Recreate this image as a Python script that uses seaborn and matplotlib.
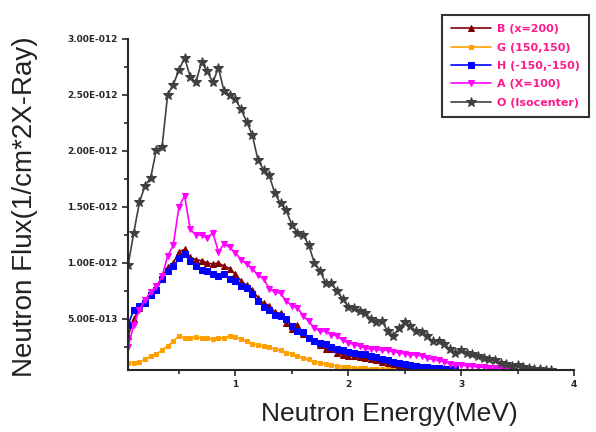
import matplotlib
matplotlib.use("Agg")
import matplotlib.pyplot as plt
import seaborn as sns
import numpy as np
import pandas as pd

# energy bins (MeV)
energy = [0.05, 0.10, 0.15, 0.20, 0.25, 0.30, 0.35, 0.40, 0.45, 0.50,
          0.55, 0.60, 0.65, 0.70, 0.75, 0.80, 0.85, 0.90, 0.95, 1.00,
          1.05, 1.10, 1.15, 1.20, 1.25, 1.30, 1.35, 1.40, 1.45, 1.50,
          1.55, 1.60, 1.65, 1.70, 1.75, 1.80, 1.85, 1.90, 1.95, 2.00,
          2.05, 2.10, 2.15, 2.20, 2.25, 2.30, 2.35, 2.40, 2.45, 2.50,
          2.55, 2.60, 2.65, 2.70, 2.75, 2.80, 2.85, 2.90, 2.95, 3.00,
          3.05, 3.10, 3.15, 3.20, 3.25, 3.30, 3.35, 3.40, 3.45, 3.50,
          3.55, 3.60, 3.65, 3.70, 3.75, 3.80]

# flux in units of 1E-12
flux_b = [0.35, 0.50, 0.60, 0.66, 0.74, 0.79, 0.87, 0.96, 1.00, 1.10,
          1.12, 1.05, 1.03, 1.02, 1.00, 0.99, 1.00, 0.97, 0.95, 0.90,
          0.84, 0.80, 0.76, 0.69, 0.64, 0.62, 0.56, 0.55, 0.46, 0.41,
          0.45, 0.37, 0.33, 0.30, 0.27, 0.23, 0.23, 0.20, 0.18, 0.17,
          0.17, 0.16, 0.15, 0.14, 0.13, 0.12, 0.11, 0.10, 0.09, 0.08,
          0.07, 0.07, 0.06, 0.06, 0.05, 0.05]
flux_g = [0.11, 0.11, 0.12, 0.14, 0.17, 0.19, 0.22, 0.26, 0.30, 0.35,
          0.33, 0.33, 0.34, 0.33, 0.33, 0.32, 0.33, 0.33, 0.35, 0.34,
          0.32, 0.30, 0.28, 0.27, 0.26, 0.25, 0.23, 0.22, 0.20, 0.19,
          0.17, 0.15, 0.14, 0.12, 0.11, 0.10, 0.09, 0.08, 0.075, 0.07,
          0.065, 0.06, 0.06, 0.055, 0.05, 0.05, 0.05, 0.048]
flux_h = [0.45, 0.58, 0.62, 0.64, 0.71, 0.76, 0.86, 0.93, 0.97, 1.04,
          1.08, 1.02, 0.97, 0.94, 0.93, 0.90, 0.88, 0.90, 0.86, 0.84,
          0.79, 0.78, 0.72, 0.66, 0.61, 0.58, 0.54, 0.53, 0.50, 0.44,
          0.39, 0.38, 0.33, 0.30, 0.29, 0.28, 0.25, 0.23, 0.22, 0.21,
          0.20, 0.19, 0.19, 0.17, 0.16, 0.14, 0.13, 0.12, 0.11, 0.10,
          0.09, 0.08, 0.07, 0.07, 0.06, 0.06, 0.05, 0.05, 0.05]
flux_a = [0.25, 0.45, 0.58, 0.67, 0.74, 0.79, 0.88, 1.06, 1.16, 1.50,
          1.60, 1.30, 1.25, 1.25, 1.22, 1.27, 1.10, 1.17, 1.14, 1.09,
          1.03, 0.99, 0.95, 0.89, 0.86, 0.77, 0.74, 0.73, 0.66, 0.62,
          0.60, 0.53, 0.48, 0.42, 0.39, 0.39, 0.36, 0.35, 0.31, 0.29,
          0.27, 0.26, 0.24, 0.23, 0.23, 0.22, 0.22, 0.21, 0.20, 0.19,
          0.18, 0.18, 0.17, 0.15, 0.14, 0.13, 0.12, 0.10, 0.09, 0.09,
          0.08, 0.08, 0.07, 0.07, 0.06, 0.06, 0.05, 0.05, 0.05]
flux_o = [0.98, 1.27, 1.54, 1.69, 1.76, 2.01, 2.03, 2.50, 2.59, 2.72,
          2.83, 2.66, 2.61, 2.79, 2.71, 2.61, 2.74, 2.53, 2.50, 2.46,
          2.37, 2.26, 2.14, 1.92, 1.83, 1.78, 1.62, 1.53, 1.47, 1.34,
          1.27, 1.25, 1.16, 1.00, 0.93, 0.82, 0.82, 0.75, 0.68, 0.61,
          0.60, 0.57, 0.55, 0.50, 0.47, 0.48, 0.39, 0.35, 0.42, 0.47,
          0.44, 0.39, 0.38, 0.35, 0.30, 0.30, 0.28, 0.23, 0.20, 0.22,
          0.20, 0.19, 0.17, 0.15, 0.14, 0.13, 0.11, 0.10, 0.08, 0.09,
          0.07, 0.06, 0.05, 0.05, 0.045, 0.045]

labels = ["B (x=200)", "G (150,150)", "H (-150,-150)", "A (X=100)", "O (Isocenter)"]
series = [flux_b, flux_g, flux_h, flux_a, flux_o]
colors = ["#800000", "#ffa000", "#0000ff", "#ff00ff", "#404040"]
markers = ["^", "s", "s", "v", "*"]
msizes = [4.5, 2.5, 5, 4, 7.5]

yticks = [5e-13, 1e-12, 1.5e-12, 2e-12, 2.5e-12, 3e-12]
ytick_labels = ["5.00E-013", "1.00E-012", "1.50E-012", "2.00E-012", "2.50E-012", "3.00E-012"]
xticks = [1, 2, 3, 4]
xtick_labels = ["1", "2", "3", "4"]

sns.set_style("ticks")
plt.rcParams["font.family"] = ["Liberation Sans", "DejaVu Sans"]

fig = plt.figure(figsize=(5.96, 4.32), dpi=100)
ax = fig.add_axes([0.215, 0.1435, 0.748, 0.767])

for lab, vals, c, m, ms in zip(labels, series, colors, markers, msizes):
    df = pd.DataFrame({"energy": energy[:len(vals)], "flux": np.array(vals) * 1e-12})
    sns.lineplot(data=df, x="energy", y="flux", ax=ax, color=c, marker=m,
                 markersize=ms, markeredgecolor=c, linewidth=1.2, label=lab)

ax.set_xlim(0.05, 4)
ax.set_ylim(0.045e-12, 3e-12)
ax.set_xticks(xticks)
ax.set_xticklabels(xtick_labels, fontsize=6.5, fontweight="bold", family="DejaVu Sans")
ax.set_xticks([0.5, 1.5, 2.5, 3.5], minor=True)
ax.set_yticks(yticks)
ax.set_yticklabels(ytick_labels, fontsize=6.5, fontweight="bold", family="DejaVu Sans")
ax.set_yticks([2.5e-13, 7.5e-13, 1.25e-12, 1.75e-12, 2.25e-12, 2.75e-12], minor=True)
ax.tick_params(which="major", length=4, width=1.2, direction="out")
ax.tick_params(which="minor", length=3, width=1.2, direction="out")
for s in ["left", "bottom"]:
    ax.spines[s].set_linewidth(1.5)
sns.despine(ax=ax)

ax.set_xlabel("Neutron Energy(MeV)", fontsize=19, color="#222222")
ax.xaxis.set_label_coords(0.587, -0.097)
ax.set_ylabel("Neutron Flux(1/cm*2X-Ray)", fontsize=20, color="#222222")
ax.yaxis.set_label_coords(-0.202, 0.492)

leg = ax.legend(loc="upper right", bbox_to_anchor=(0.998, 0.977),
                bbox_transform=fig.transFigure, frameon=True, fancybox=False,
                edgecolor="black", handlelength=3.6, borderpad=0.8,
                labelspacing=0.75, handletextpad=0.6,
                prop={"family": "DejaVu Sans", "weight": "bold", "size": 8})
leg.get_frame().set_linewidth(1.5)
for t in leg.get_texts():
    t.set_color("#ff1a8c")

fig.savefig("out.png", dpi=100)
